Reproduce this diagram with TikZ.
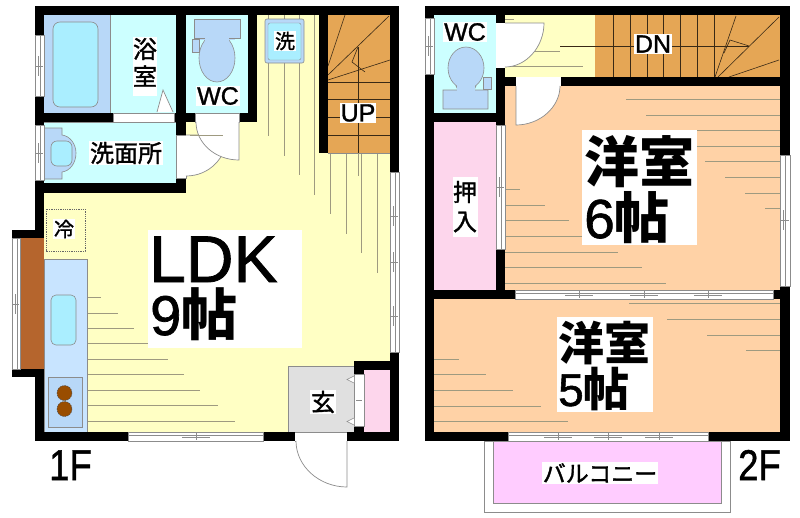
\documentclass[tikz,border=0pt]{standalone}
\usepackage{fontspec}
\setmainfont{Liberation Sans}
\newfontfamily\cjk[FakeBold=1.5]{Noto Sans CJK JP}
\newfontfamily\cjkbig{Noto Sans CJK JP}
\newfontfamily\lat[FakeBold=1.2]{Liberation Sans}
\definecolor{wfloor}{HTML}{FFFFC4}
\definecolor{wcyan}{HTML}{CCFFFF}
\definecolor{wblue}{HTML}{B8D8F8}
\definecolor{wwater}{HTML}{AAEEFF}
\definecolor{wpeach}{HTML}{FFD2A6}
\definecolor{wstair}{HTML}{E5A655}
\definecolor{wpink}{HTML}{FDD6EC}
\definecolor{wbalc}{HTML}{FFCCFF}
\definecolor{wline}{HTML}{9E9A80}
\definecolor{wedge}{HTML}{8C8C8C}
\definecolor{wkit}{HTML}{C8E4FF}
\definecolor{wbrown}{HTML}{B5652D}
\definecolor{wburn}{HTML}{994D00}
\newcommand{\fs}[1]{\fontsize{#1}{#1}\selectfont}
\newcommand{\wall}[4]{\fill[black] (#1,#2) rectangle (#3,#4);}
\newcommand{\room}[5]{\fill[#5] (#1,#2) rectangle (#3,#4);}
% horizontal window: x1 x2 y1 y2 ticks
\newcommand{\hwin}[5]{\draw[wedge,fill=white,line width=.7pt] (#1,#3) rectangle (#2,#4);
  \draw[wedge,line width=.5pt] (#1,#3+3.5) -- (#2,#3+3.5);
  \foreach \t in {#5}{\draw[wedge,line width=.5pt] (\t,#3+1) -- (\t,#4-1); \draw[wedge,line width=.5pt] (\t-14,#3+5.5) -- (\t+14,#3+5.5);}}
\newcommand{\vwin}[5]{\draw[wedge,fill=white,line width=.7pt] (#1,#3) rectangle (#2,#4);
  \draw[wedge,line width=.5pt] (#1+5,#3) -- (#1+5,#4);
  \foreach \t in {#5}{\draw[wedge,line width=.5pt] (#1+1,\t) -- (#2-1,\t);\draw[wedge,line width=.5pt] (#1+3.5,\t-10) -- (#1+3.5,\t+10);}}
\tikzset{x=1pt,y=-1pt,
  fl/.style={wline,line width=.8pt},
  stl/.style={draw=black!75!wstair,line width=.6pt},
  eq/.style={draw=wedge,line width=.6pt},
  door/.style={fill=white,draw=wedge,line width=.7pt},
  lbl/.style={fill=white,inner sep=1pt,text=black},
  free/.style={inner sep=0pt,text=black,anchor=base west}}
\begin{document}
\begin{tikzpicture}
\useasboundingbox (0,0) rectangle (800,517);
\fill[white] (0,0) rectangle (800,517);
% ---------- 1F floors
\room{186}{15}{390}{432}{wfloor}
\room{44}{190}{390}{432}{wfloor}
\room{44}{15}{176}{113}{wcyan}
\room{44}{15}{110}{113}{wblue}
\draw[eq] (110,15) -- (110,113);
\draw[eq,fill=wwater,rounded corners=7pt] (53,22) rectangle (98,107);
\room{186}{15}{248}{113}{wcyan}
\room{44}{122}{176}{183}{wcyan}
\draw[wedge,line width=.5pt] (44,122) -- (176,122) (44,183) -- (176,183);
\draw[eq,fill=wblue] (44,128) -- (62,128) -- (62,135) .. controls (70,136) and (76,144) .. (76,153) .. controls (76,163) and (70,171) .. (62,172) -- (62,179) -- (44,179) -- cycle;
\draw[eq,fill=wwater,rounded corners=6pt] (51,141) rectangle (72,166);
\room{328}{15}{390}{153}{wstair}
% floor lines 1F
\foreach \x/\e in {268/136,284/156,299/175,314/195}{\draw[fl] (\x,15) -- (\x,\e);}
\foreach \x/\e in {330/214,346/234,361/253,377/273}{\draw[fl] (\x,153) -- (\x,\e);}
\foreach \y/\e in {297/101,313/118,328/134,343/150,359/168,374/184,390/200,405/218,421/235}{\draw[fl] (87,\y) -- (\e,\y);}
% stair 1F
\draw[wedge,line width=.6pt] (328,153) -- (390,153);
\foreach \y in {82,99,117,135}{\draw[stl] (328,\y) -- (390,\y);}
\draw[stl] (358,47) -- (358,153);
\draw[fl] (358,153) -- (358,176);
\draw[stl] (328,66) -- (345,15) (328,75) -- (389,16) (328,80) -- (390,60);
\draw[stl] (358,47) -- (352,62) -- (365,72);
% washer
\draw[wedge,fill=wblue,rounded corners=2pt,line width=.6pt] (265,19) rectangle (304,63);
\draw[wedge,fill=wwater,rounded corners=2pt,line width=.4pt] (268,23) rectangle (301,60);
% toilet 1F
\fill[wblue] (199,38) rectangle (235,40);
\draw[eq,fill=wblue] (217,58) ellipse (18 and 24);
\draw[eq,fill=wblue] (194,19) -- (240,19) -- (240,38) -- (194,38) -- cycle;
\fill[wblue] (205,37) rectangle (229,42);
\draw[eq,fill=wblue] (192,39) rectangle (199,52);
% bath door
\draw[door] (157,112) -- (163,90) -- (173,112);
% kitchen
\room{20}{238}{44}{369}{wbrown}
\draw[eq,fill=wkit] (44,259) rectangle (87,432);
\draw[eq,fill=wwater,rounded corners=5pt] (51,295) rectangle (76,345);
\draw[eq,fill=wblue] (48,377) rectangle (82,427);
\draw[black!70,dashed,fill=wburn,line width=.5pt,dash pattern=on 1.5pt off 1pt] (64.5,393) circle (7.5) (64.5,409) circle (7.5);
\draw[black!60,densely dotted,line width=.8pt] (46,209) rectangle (85,251);
% entrance
\draw[wedge,fill=black!12,line width=.7pt] (288,366) rectangle (354,432);
\room{364}{370}{390}{432}{wpink}
% ---------- 1F walls
\wall{35}{6}{399}{15}
\wall{35}{15}{44}{35}\wall{35}{96}{44}{125}\wall{35}{180}{44}{238}
\wall{35}{113}{113}{122}\wall{174}{113}{195}{122}\wall{239}{113}{257}{122}
\wall{176}{15}{186}{135}\wall{248}{15}{257}{122}
\wall{176}{178}{186}{193}\wall{35}{183}{186}{193}
\wall{12}{230}{44}{238}\wall{12}{369}{44}{377}\wall{35}{369}{44}{441}
\wall{35}{432}{128}{441}\wall{263}{432}{295}{441}\wall{347}{432}{399}{441}
\wall{319}{15}{328}{153}\wall{390}{6}{399}{172}\wall{390}{352}{399}{441}
\wall{354}{361}{399}{370}\wall{354}{370}{364}{374}\wall{354}{426}{364}{432}
% openings and windows 1F
\vwin{35}{44}{35}{96}{66}
\vwin{35}{44}{125}{180}{153}
\vwin{12}{20}{238}{369}{304}
\hwin{128}{263}{432}{441}{196}
\vwin{390}{399}{172}{352}{216,262,316}
\draw[wedge,fill=white,line width=.5pt] (113,113) rectangle (174,122);
\draw[wedge,fill=white,line width=.5pt] (195,113) rectangle (239,122);
\draw[wedge,fill=white,line width=.5pt] (176,135) rectangle (186,178);
\fill[white] (295,432.5) rectangle (347,441);
\draw[wedge,line width=.5pt] (295,441) -- (347,441);
\draw[wedge,fill=white,line width=.5pt] (354,374) rectangle (364,426);
\draw[wedge,line width=.5pt] (356,400) -- (362,400);
\draw[door,line width=.5pt] (354,376) -- (347,379.5) -- (354,383);
\draw[door,line width=.5pt] (354,418) -- (347,421.5) -- (354,425);
% doors 1F
\path[door] (186,135) -- (227,135) .. controls (227,158) and (209,176) .. (186,176);
\path[door] (239,122) -- (239,160) .. controls (215,160) and (196,143) .. (196,122);
\draw[fl] (190,135) -- (223,135);
\path[door] (347,441) -- (347,487) .. controls (319,487) and (296,466) .. (296,441);
% ---------- 2F floors
\room{434}{15}{496}{113}{wcyan}
\room{434}{122}{496}{290}{wpink}
\room{505}{15}{595}{77}{wfloor}
\room{595}{15}{780}{77}{wstair}
\room{505}{86}{780}{290}{wpeach}
\room{434}{299}{780}{432}{wpeach}
\draw[wedge,line width=.7pt] (484,441) rectangle (730,512);
\draw[wedge,fill=wbalc,line width=.8pt] (493,441) rectangle (721,503);
% floor lines 2F
\foreach \y/\s in {99/626,115/646,130/665,146/685,161/705,177/725,193/745,208/765}{\draw[fl] (\s,\y) -- (780,\y);}
\foreach \y/\e in {189/520,205/545,220/569,236/594,252/618,267/642,283/666}{\draw[fl] (505,\y) -- (\e,\y);}
\foreach \y/\s in {303/629,319/667,335/707,350/746}{\draw[fl] (\s,\y) -- (780,\y);}
\foreach \y/\e in {359/459,374/486,390/513,406/541,421/568}{\draw[fl] (434,\y) -- (\e,\y);}
\draw[fl] (505,19) -- (514,19) (535,51) -- (560,51) (508,66) -- (583,66);
% stair 2F
\foreach \x in {613,630,647,663,680,697,714}{\draw[stl] (\x,15) -- (\x,77);}
\draw[stl] (560,46) -- (749,46);
\draw[stl] (736,16) -- (715,77) (779,17) -- (718,77) (779,60) -- (729,77);
\draw[stl] (749,46) -- (730,40) -- (724,53);
% toilet 2F
\draw[eq,fill=wblue] (443,109) -- (443,90) -- (458,90) -- (456,86) -- (476,86) -- (474,90) -- (488,90) -- (488,109) -- cycle;
\draw[eq,fill=wblue] (466,68) ellipse (18 and 21);
\fill[wblue] (457,84) rectangle (475,95);
\draw[eq,fill=wblue] (483,77) rectangle (491,89);
% ---------- 2F walls
\wall{425}{6}{790}{15}
\wall{425}{15}{434}{18}\wall{425}{74}{434}{441}
\wall{425}{113}{505}{122}
\wall{496}{15}{505}{23}\wall{496}{68}{505}{125}\wall{496}{249}{505}{299}
\wall{496}{77}{516}{86}\wall{561}{77}{790}{86}
\wall{425}{290}{515}{299}\wall{773}{290}{790}{299}
\wall{780}{15}{790}{155}\wall{780}{286}{790}{441}
\wall{425}{432}{508}{441}\wall{708}{432}{790}{441}
% windows 2F
\vwin{425}{434}{18}{74}{46}
\vwin{496}{505}{125}{249}{187}
\vwin{780}{790}{155}{286}{220}
\hwin{515}{773}{290}{299}{579,644,708}
\hwin{508}{708}{432}{441}{558,608,659}
\fill[white] (496.3,23) rectangle (505,68);
\fill[white] (516,77.3) rectangle (561,86);
\path[door] (505,23) -- (544,23) .. controls (544,47) and (526,67) .. (505,67);
\path[door] (516,86) -- (516,125) .. controls (540,125) and (560,107) .. (560,86);
% ---------- big label boxes
\fill[white] (148,230) rectangle (302,348);
\fill[white] (582,130) rectangle (697,245);
\fill[white] (557,317) rectangle (653,412);
\fill[white] (453,177) rectangle (478,237);
\fill[white] (133,37) rectangle (157,96);
% ---------- labels
\node[free] (ldk) at (149,282) {\fs{66}\lat LDK};
\node[free] (nine) at (150,335) {\fs{56}\lat 9{\cjkbig\bfseries 帖}};
\node[free] (six1) at (584,182) {\fs{55}\cjkbig\bfseries 洋室};
\node[free] (six2) at (584,238) {\fs{55}\lat 6{\cjkbig\bfseries 帖}};
\node[free] (five1) at (558,360) {\fs{46}\cjkbig\bfseries 洋室};
\node[free] (five2) at (558,406) {\fs{46}\lat 5{\cjkbig\bfseries 帖}};
\node[inner sep=0pt] (osi) at (465,192) {\fs{24}\cjk 押};
\node[inner sep=0pt] (iri) at (465,222) {\fs{24}\cjk 入};
\node[inner sep=0pt] (yoku) at (145,49) {\fs{24}\cjk 浴};
\node[inner sep=0pt] (shitsu) at (145,76) {\fs{24}\cjk 室};
\node[lbl] (senmen) at (126,153) {\fs{24}\cjk 洗面所};
\node[lbl] (wc1) at (218,96) {\fs{25}\lat WC};
\node[lbl] (sen) at (285,41) {\fs{20}\cjk 洗};
\node[lbl] (up) at (358,113) {\fs{25}\lat UP};
\node[lbl] (rei) at (64,229) {\fs{20}\cjk 冷};
\node[lbl] (gen) at (323,402) {\fs{24}\cjk 玄};
\node[lbl] (wc2) at (465,32) {\fs{25}\lat WC};
\node[lbl] (dn) at (653,44) {\fs{25}\lat DN};
\node[lbl] (balc) at (600,473) {\fs{23}\cjk バルコニー};
\node[free] (f1) at (49,480) {\fs{43}\lat\scalebox{.85}[1]{1F}};
\node[free] (f2) at (738,480) {\fs{43}\lat\scalebox{.85}[1]{2F}};
\end{tikzpicture}
\end{document}
